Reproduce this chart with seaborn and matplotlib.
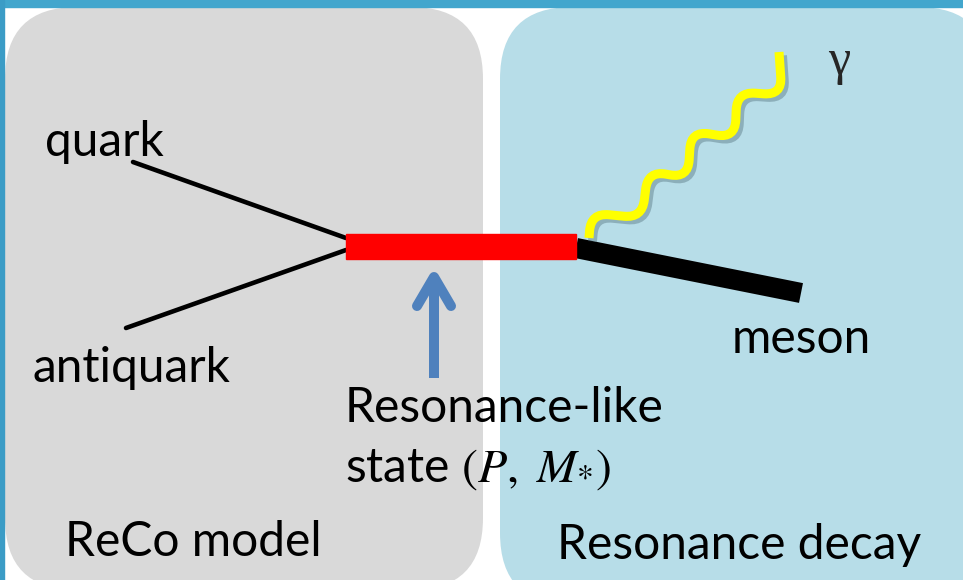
import numpy as np
import matplotlib.pyplot as plt
import seaborn as sns
import matplotlib.patheffects as pe
from matplotlib.patches import FancyBboxPatch, Rectangle, PathPatch
from matplotlib.path import Path

# canvas is laid out in pixel units, y grows downwards
W, H = 963, 580

# two background panels
panel_labels = ["ReCo model", "Resonance decay"]
panel_x0 = [5, 500]
panel_x1 = [483, 990]
panel_y0 = [7, 7]
panel_y1 = [590, 605]
panel_colors = ["#d9d9d9", "#b7dde8"]
panel_label_x = [65, 557]
panel_label_y = [556, 559]

# particle lines
quark_x = [133, 346]
quark_y = [162, 238]
antiquark_x = [126, 346]
antiquark_y = [328, 250]
meson_x = [576, 801]
meson_y = [248, 293]
reso_x = [346, 576]
reso_y = [234, 259]

# photon: corners of the staircase-like wiggle
photon_x = [589, 591, 642, 648, 688, 691, 735, 737, 782, 779]
photon_y = [238, 213, 218, 171, 178, 131, 138, 92, 95, 52]
photon_round = 18

# arrow pointing at the resonance
arrow_x = 434
arrow_tail = 378
arrow_tip = 277
arrow_half = 17
arrow_head = 29

labels = ["quark", "antiquark", "meson", "Resonance-like",
          r"state $\mathit{(P,\ M}_{*}\mathit{)}$"]
label_x = [45, 33, 732, 345, 345]
label_y = [156, 382, 353, 422, 482]

sns.set_theme(style="white")
plt.rcParams['font.family'] = ['Lato', 'DejaVu Sans']
plt.rcParams['mathtext.fontset'] = 'stix'

fig = plt.figure(figsize=(W / 100, H / 100), dpi=100)
ax = fig.add_axes([0, 0, 1, 1])

# frame strips
ax.add_patch(Rectangle((0, 0), W, 7, color="#42a6cd", zorder=5))
ax.add_patch(Rectangle((0, 0), 4, H, color="#3b9cc6", zorder=5))

for x0, x1, y0, y1, c in zip(panel_x0, panel_x1, panel_y0, panel_y1, panel_colors):
    ax.add_patch(FancyBboxPatch((x0, y0), x1 - x0, y1 - y0,
                                boxstyle="round,pad=0,rounding_size=72",
                                fc=c, ec="none", zorder=1))

sns.lineplot(x=quark_x, y=quark_y, sort=False, color="black", linewidth=3.3, ax=ax, zorder=3)
sns.lineplot(x=antiquark_x, y=antiquark_y, sort=False, color="black", linewidth=3.3, ax=ax, zorder=3)
sns.lineplot(x=meson_x, y=meson_y, sort=False, color="black", linewidth=14.5,
             solid_capstyle="butt", ax=ax, zorder=3)
ax.add_patch(Rectangle((reso_x[0], reso_y[0]), reso_x[1] - reso_x[0], reso_y[1] - reso_y[0],
                       color="#ff0000", zorder=4))

# photon wiggle: polyline with rounded corners
pts = np.column_stack([photon_x, photon_y]).astype(float)
verts = [pts[0]]
codes = [Path.MOVETO]
for i in range(1, len(pts) - 1):
    d_in = pts[i] - pts[i - 1]
    d_out = pts[i + 1] - pts[i]
    d_in /= np.linalg.norm(d_in)
    d_out /= np.linalg.norm(d_out)
    verts += [pts[i] - photon_round * d_in, pts[i], pts[i] + photon_round * d_out]
    codes += [Path.LINETO, Path.CURVE3, Path.CURVE3]
verts.append(pts[-1])
codes.append(Path.LINETO)
ax.add_patch(PathPatch(Path(verts, codes), fc="none", ec="#ffff00", lw=6.5,
                       capstyle="butt", zorder=3,
                       path_effects=[pe.SimpleLineShadow(offset=(2.5, -2.5), shadow_color="#3d5a66",
                                                         alpha=0.35),
                                     pe.Normal()]))

# arrow
blue = "#4f81bd"
ax.plot([arrow_x, arrow_x], [arrow_tail, arrow_tip + 6], color=blue, lw=7.2,
        solid_capstyle="butt", zorder=4)
ax.plot([arrow_x - arrow_half, arrow_x, arrow_x + arrow_half],
        [arrow_tip + arrow_head, arrow_tip, arrow_tip + arrow_head],
        color=blue, lw=7.2, solid_capstyle="round", solid_joinstyle="round", zorder=4)

for t, x, y in zip(labels, label_x, label_y):
    ax.text(x, y, t, fontsize=34.5, color="black", ha="left", va="baseline", zorder=6)
for t, x, y in zip(panel_labels, panel_label_x, panel_label_y):
    ax.text(x, y, t, fontsize=34.5, color="black", ha="left", va="baseline", zorder=6)
ax.text(839, 62, "γ", fontsize=36, family="Liberation Serif", ha="center", va="center", zorder=6)

ax.set_xlim(0, W)
ax.set_ylim(H, 0)
ax.axis("off")
fig.savefig("out.png", dpi=100)
